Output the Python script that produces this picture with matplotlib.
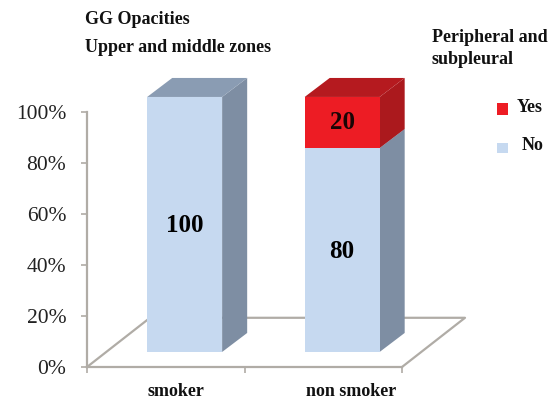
import matplotlib
matplotlib.use('Agg')
import matplotlib.pyplot as plt
from matplotlib.patches import Polygon, Rectangle

plt.rcParams['font.family'] = ['Liberation Serif', 'DejaVu Serif']

categories = ['smoker', 'non smoker']
no_values = [100, 80]
yes_values = [0, 20]
y_ticks = [0, 20, 40, 60, 80, 100]

W, H = 554, 400
BLUE = '#c6d9f0'
BLUE_SIDE = '#7e8ea3'
BLUE_TOP = '#8a9cb3'
RED = '#ed1c24'
RED_SIDE = '#ab191d'
RED_TOP = '#b51a1f'
GRID = '#b0aca6'

# floor depth, bar depth and bar offset on the floor, in data units
FLOOR_DX, FLOOR_DY = 0.4, 19.3
BAR_DX, BAR_DY = 0.159, 7.45
BASE_DX, BASE_DY = 0.12, 5.9
BAR_W = 0.476

fig = plt.figure(figsize=(W / 100, H / 100), dpi=100)
ax = fig.add_axes([87 / W, 1 - 367 / H, 315 / W, 255 / H])
ax.set_xlim(0, 2)
ax.set_ylim(0, 100)
ax.patch.set_alpha(0)


def poly(points, color, z):
    ax.add_patch(Polygon(points, closed=True, facecolor=color, edgecolor='none',
                         clip_on=False, zorder=z))


def box(i, y0, y1, front, side, top, z):
    x0 = i + 0.5 - BAR_W / 2 + BASE_DX
    x1 = x0 + BAR_W
    y0 = y0 + BASE_DY
    y1 = y1 + BASE_DY
    poly([(x1, y0), (x1 + BAR_DX, y0 + BAR_DY), (x1 + BAR_DX, y1 + BAR_DY), (x1, y1)], side, z)
    poly([(x0, y1), (x1, y1), (x1 + BAR_DX, y1 + BAR_DY), (x0 + BAR_DX, y1 + BAR_DY)], top, z)
    poly([(x0, y0), (x1, y0), (x1, y1), (x0, y1)], front, z)


# floor of the 3d plot
ax.plot([0, FLOOR_DX, 2 + FLOOR_DX, 2], [0, FLOOR_DY, FLOOR_DY, 0], color=GRID, lw=1.6,
        clip_on=False, zorder=1)

for i in range(len(categories)):
    box(i, 0, no_values[i], BLUE, BLUE_SIDE, BLUE_TOP, 3)
    if yes_values[i] > 0:
        box(i, no_values[i], no_values[i] + yes_values[i], RED, RED_SIDE, RED_TOP, 4)
    xc = i + 0.5 + BASE_DX
    ax.text(xc, no_values[i] / 2 + BASE_DY - 0.5, str(no_values[i]), ha='center', va='center',
            fontsize=18, fontweight='bold', color='black', zorder=6)
    if yes_values[i] > 0:
        ax.text(xc, no_values[i] + yes_values[i] / 2 + BASE_DY, str(yes_values[i]), ha='center',
                va='center', fontsize=18, fontweight='bold', color='#1a0505', zorder=6)

for s in ['top', 'right']:
    ax.spines[s].set_visible(False)
for s in ['left', 'bottom']:
    ax.spines[s].set_color(GRID)
    ax.spines[s].set_linewidth(1.6)

ax.set_yticks(y_ticks)
ax.set_yticklabels([f'{v}%' for v in y_ticks], fontsize=15.5, color='#222222')
ax.set_xticks([0, 1, 2])
ax.set_xticklabels([])
ax.tick_params(axis='y', length=4, width=1.2, color=GRID, pad=11)
ax.tick_params(axis='x', length=4, width=1.2, color=GRID)


def label(x, y, s, **kw):
    # text placed by pixel position on the figure
    fig.text(x / W, 1 - y / H, s, fontweight='bold', fontsize=13, color='#111111',
             va='center', **kw)


label(85, 20, 'GG Opacities')
label(85, 48, 'Upper and middle zones')
label(432, 37, 'Peripheral and')
label(432, 60, 'subpleural')
label(176, 392, categories[0], ha='center')
label(351, 392, categories[1], ha='center')
label(517, 108, 'Yes')
label(522, 146, 'No')

# legend swatches
fig.add_artist(Rectangle((497 / W, 1 - 115 / H), 11 / W, 12 / H, transform=fig.transFigure,
                         facecolor=RED, edgecolor='none'))
fig.add_artist(Rectangle((497 / W, 1 - 153 / H), 11 / W, 10 / H, transform=fig.transFigure,
                         facecolor=BLUE, edgecolor='none'))

fig.savefig('out.png', dpi=100)
